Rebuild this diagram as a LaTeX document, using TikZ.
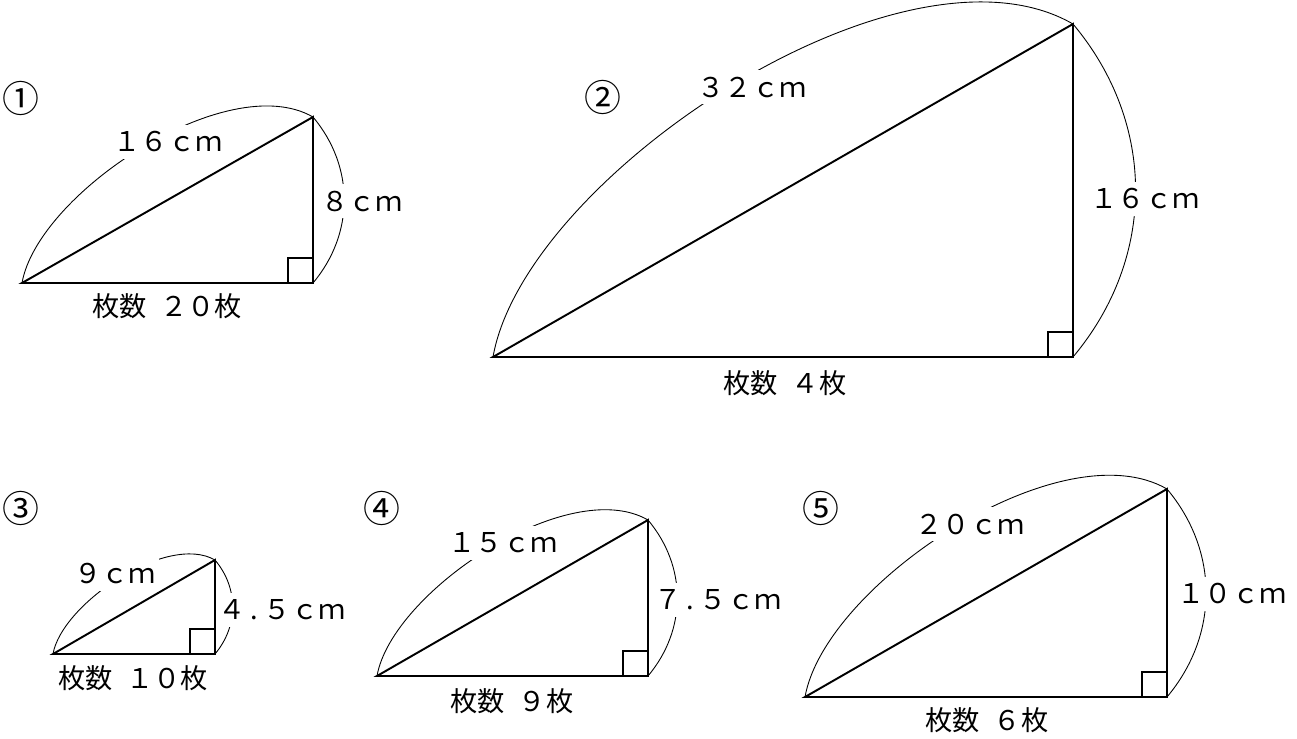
\documentclass[tikz,border=0pt]{standalone}
\usepackage{fontspec}
\setmainfont{Noto Sans CJK JP}

\begin{document}
\begin{tikzpicture}[
  x=0.2mm, y=0.2mm,
  leg/.style={line width=1.1pt},
  rightangle/.style={line width=0.8pt},
  measure/.style={line width=0.5pt},
  hyparc/.style={out=80, in=150, out looseness=0.7, in looseness=0.75},
  sidearc/.style={out=-50, in=50, looseness=1},
  len/.style={fill=white, inner xsep=2pt, inner ysep=4pt, font=\fontsize{15.5pt}{15.5pt}\selectfont},
  count/.style={inner sep=0pt, font=\fontsize{15.5pt}{15.5pt}\selectfont},
  tag/.style={inner sep=0pt, font=\fontsize{21pt}{21pt}\selectfont}
]
  \useasboundingbox (0,0) rectangle (1297,738);

  \coordinate (a1) at (22,455);
  \coordinate (c1) at (313,455);
  \coordinate (b1) at (313,621);
  \coordinate (a2) at (493,381);
  \coordinate (c2) at (1073,381);
  \coordinate (b2) at (1073,714);
  \coordinate (a3) at (53,84);
  \coordinate (c3) at (215,84);
  \coordinate (b3) at (215,178);
  \coordinate (a4) at (377,62);
  \coordinate (c4) at (648,62);
  \coordinate (b4) at (648,218);
  \coordinate (a5) at (805,41);
  \coordinate (c5) at (1167,41);
  \coordinate (b5) at (1167,249);

  \draw[measure] (a1) to[hyparc] (b1) to[sidearc] (c1);
  \draw[measure] (a2) to[hyparc] (b2) to[sidearc] (c2);
  \draw[measure] (a3) to[hyparc] (b3) to[sidearc] (c3);
  \draw[measure] (a4) to[hyparc] (b4) to[sidearc] (c4);
  \draw[measure] (a5) to[hyparc] (b5) to[sidearc] (c5);

  \node[tag] (num1) at (21,640) {①};
  \node[len] (hyp1) at (168,596) {１６ｃｍ};
  \node[len] (side1) at (362,537) {８ｃｍ};
  \node[count] (base1) at (167,432) {枚数\enspace２０枚};

  \node[tag] (num2) at (603,641) {②};
  \node[len] (hyp2) at (752,651) {３２ｃｍ};
  \node[len] (side2) at (1145,539) {１６ｃｍ};
  \node[count] (base2) at (785,355) {枚数\enspace４枚};

  \node[tag] (num3) at (21,230) {③};
  \node[len] (hyp3) at (115,164) {９ｃｍ};
  \node[len] (side3) at (282,128) {４\hspace{.2em}.\hspace{.2em}５ｃｍ};
  \node[count] (base3) at (133,60) {枚数\enspace１０枚};

  \node[tag] (num4) at (382,230) {④};
  \node[len] (hyp4) at (503,195) {１５ｃｍ};
  \node[len] (side4) at (718,138) {７\hspace{.2em}.\hspace{.2em}５ｃｍ};
  \node[count] (base4) at (512,37) {枚数\enspace９枚};

  \node[tag] (num5) at (821,230) {⑤};
  \node[len] (hyp5) at (970,214) {２０ｃｍ};
  \node[len] (side5) at (1232,144) {１０ｃｍ};
  \node[count] (base5) at (987,18) {枚数\enspace６枚};

  \draw[leg] (a1) -- (c1) -- (b1) -- cycle;
  \draw[leg] (a2) -- (c2) -- (b2) -- cycle;
  \draw[leg] (a3) -- (c3) -- (b3) -- cycle;
  \draw[leg] (a4) -- (c4) -- (b4) -- cycle;
  \draw[leg] (a5) -- (c5) -- (b5) -- cycle;

  \draw[rightangle] ([xshift=-5mm]c1) |- ([yshift=5mm]c1);
  \draw[rightangle] ([xshift=-5mm]c2) |- ([yshift=5mm]c2);
  \draw[rightangle] ([xshift=-5mm]c3) |- ([yshift=5mm]c3);
  \draw[rightangle] ([xshift=-5mm]c4) |- ([yshift=5mm]c4);
  \draw[rightangle] ([xshift=-5mm]c5) |- ([yshift=5mm]c5);
\end{tikzpicture}
\end{document}
